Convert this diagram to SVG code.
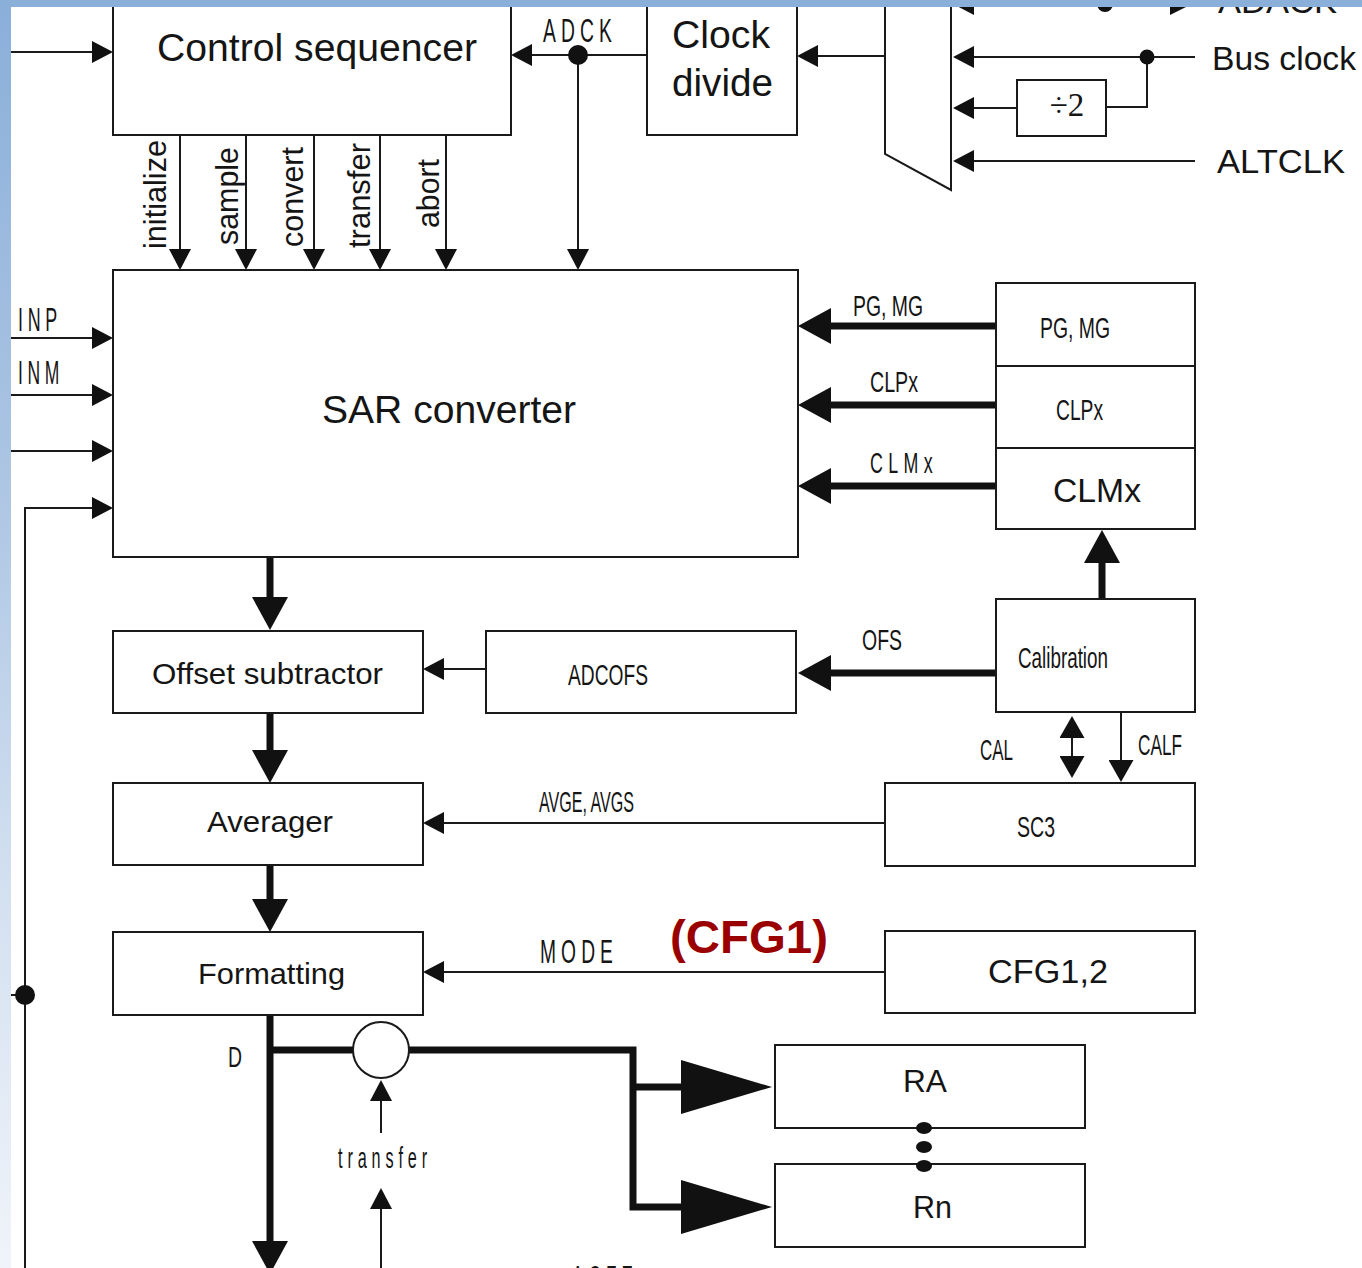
<svg xmlns="http://www.w3.org/2000/svg" width="1362" height="1268" viewBox="0 0 1362 1268">
  <defs>
    <linearGradient id="edge" x1="0" y1="0" x2="0" y2="1">
      <stop offset="0" stop-color="#8aafd9"/>
      <stop offset="0.35" stop-color="#a9c3e2"/>
      <stop offset="0.7" stop-color="#d3e0f0"/>
      <stop offset="1" stop-color="#f0f4fa"/>
    </linearGradient>
    <!-- arrowheads: base sits on the path end, tip points along the path -->
    <marker id="ah" viewBox="0 -11 21 22" refX="0" refY="0" markerWidth="21" markerHeight="22" markerUnits="userSpaceOnUse" orient="auto-start-reverse">
      <path d="M0,-11 L21,0 L0,11 Z" fill="#111"/>
    </marker>
    <marker id="ahm" viewBox="0 -12.5 22 25" refX="0" refY="0" markerWidth="22" markerHeight="25" markerUnits="userSpaceOnUse" orient="auto-start-reverse">
      <path d="M0,-12.5 L22,0 L0,12.5 Z" fill="#111"/>
    </marker>
    <marker id="aht" viewBox="0 -18 33 36" refX="0" refY="0" markerWidth="33" markerHeight="36" markerUnits="userSpaceOnUse" orient="auto">
      <path d="M0,-18 L33,0 L0,18 Z" fill="#111"/>
    </marker>
    <marker id="ahb" viewBox="0 -27 91 54" refX="0" refY="0" markerWidth="91" markerHeight="54" markerUnits="userSpaceOnUse" orient="auto">
      <path d="M0,-27 L91,0 L0,27 Z" fill="#111"/>
    </marker>
  </defs>
  <style>
    .box { fill: #fff; stroke: #1a1a1a; stroke-width: 2; }
    .w { fill: none; stroke: #1a1a1a; stroke-width: 2; }
    .wa { fill: none; stroke: #1a1a1a; stroke-width: 2; marker-end: url(#ah); }
    .wm { fill: none; stroke: #1a1a1a; stroke-width: 2; marker-end: url(#ahm); }
    .bus { fill: none; stroke: #111; stroke-width: 7; stroke-linejoin: miter; }
    .busa { fill: none; stroke: #111; stroke-width: 7; marker-end: url(#aht); }
    .busb { fill: none; stroke: #111; stroke-width: 7; stroke-linejoin: miter; marker-end: url(#ahb); }
    .dot { fill: #111; }
    text { font-family: "Liberation Sans", Arial, Helvetica, sans-serif; fill: #151515; }
    .big { font-size: 38px; }
    .mid { font-size: 33px; }
    .blk { font-size: 30px; }
    .sig { font-size: 31px; }
    .nar { font-size: 30px; }
    .sp { font-size: 30px; letter-spacing: 9px; }
    .spl { font-size: 34px; letter-spacing: 9px; }
    .serif { font-family: "Liberation Serif", "Times New Roman", serif; font-size: 33px; }
    .note { font-size: 47px; font-weight: bold; fill: #9b0000; }
  </style>

  <rect x="0" y="0" width="1362" height="1268" fill="#fff"/>

  <!-- connectors -->
  <g id="connectors">
    <!-- control sequencer inputs -->
    <path class="wa" d="M10,52 H92"/>
    <path class="wa" d="M647,55 H532"/>
    <path class="wa" d="M578,55 V249"/>
    <!-- sequencer control lines -->
    <path class="wa" d="M180,135 V249"/>
    <path class="wa" d="M246,135 V249"/>
    <path class="wa" d="M314,135 V249"/>
    <path class="wa" d="M380,135 V249"/>
    <path class="wa" d="M446,135 V249"/>
    <!-- clock mux -->
    <path class="wa" d="M885,56 H818"/>
    <path class="wa" d="M1170,4 H974"/>
    <polygon points="1170,-7 1192,4 1170,15" fill="#111"/>
    <path class="wa" d="M1195,57 H974"/>
    <path class="w" d="M1147,57 V107 H1106"/>
    <path class="wa" d="M1017,108 H974"/>
    <path class="wa" d="M1195,161 H974"/>
    <!-- analog inputs -->
    <path class="wa" d="M10,338 H92"/>
    <path class="wa" d="M10,395 H92"/>
    <path class="wa" d="M10,451 H92"/>
    <path class="wa" d="M25,1268 V508 H92"/>
    <path class="w" d="M10,995 H25"/>
    <!-- calibration registers -->
    <path class="busa" d="M996,326 H831"/>
    <path class="busa" d="M996,405 H831"/>
    <path class="busa" d="M996,486 H831"/>
    <path class="busa" d="M996,673 H831"/>
    <path class="busa" d="M1102,599 V563"/>
    <path class="wa" d="M486,669 H444"/>
    <path class="wm" d="M1072,738 V756" marker-start="url(#ahm)"/>
    <path class="wm" d="M1121,712 V760"/>
    <path class="wa" d="M885,823 H444"/>
    <path class="wa" d="M885,972 H444"/>
    <!-- data path -->
    <path class="busa" d="M270,557 V597"/>
    <path class="busa" d="M270,713 V750"/>
    <path class="busa" d="M270,865 V899"/>
    <path class="busa" d="M270,1015 V1241"/>
    <path class="bus" d="M270,1050 H353"/>
    <path class="busb" d="M409,1050 H633 V1207 H681"/>
    <path class="busb" d="M633,1087 H681"/>
    <path class="wa" d="M381,1133 V1101"/>
    <path class="wa" d="M381,1268 V1209"/>
    <!-- junction dots -->
    <circle class="dot" cx="578" cy="55" r="10"/>
    <circle class="dot" cx="1147" cy="57" r="7.5"/>
    <circle class="dot" cx="1105" cy="4" r="8"/>
    <circle class="dot" cx="25" cy="995" r="10"/>
  </g>

  <!-- signal labels -->
  <g id="labels">
    <text class="spl" x="543" y="42" textLength="74" lengthAdjust="spacingAndGlyphs">ADCK</text>
    <text class="sig" transform="translate(166,249) rotate(-90)" textLength="109" lengthAdjust="spacingAndGlyphs">initialize</text>
    <text class="sig" transform="translate(238,245) rotate(-90)" textLength="98" lengthAdjust="spacingAndGlyphs">sample</text>
    <text class="sig" transform="translate(303,247) rotate(-90)" textLength="100" lengthAdjust="spacingAndGlyphs">convert</text>
    <text class="sig" transform="translate(370,248) rotate(-90)" textLength="105" lengthAdjust="spacingAndGlyphs">transfer</text>
    <text class="sig" transform="translate(439,228) rotate(-90)" textLength="69" lengthAdjust="spacingAndGlyphs">abort</text>
    <text class="spl" x="18" y="331" textLength="44" lengthAdjust="spacingAndGlyphs">INP</text>
    <text class="spl" x="18" y="384" textLength="46" lengthAdjust="spacingAndGlyphs">INM</text>
    <text class="nar" x="853" y="316" textLength="70" lengthAdjust="spacingAndGlyphs">PG, MG</text>
    <text class="nar" x="870" y="392" textLength="48" lengthAdjust="spacingAndGlyphs">CLPx</text>
    <text class="sp" x="870" y="473" textLength="68" lengthAdjust="spacingAndGlyphs">CLMx</text>
    <text class="nar" x="862" y="650" textLength="40" lengthAdjust="spacingAndGlyphs">OFS</text>
    <text class="nar" x="980" y="760" textLength="33" lengthAdjust="spacingAndGlyphs">CAL</text>
    <text class="nar" x="1138" y="755" textLength="44" lengthAdjust="spacingAndGlyphs">CALF</text>
    <text class="nar" x="539" y="812" textLength="95" lengthAdjust="spacingAndGlyphs">AVGE, AVGS</text>
    <text class="spl" x="540" y="963" textLength="78" lengthAdjust="spacingAndGlyphs">MODE</text>
    <text class="note" x="670" y="953" textLength="158" lengthAdjust="spacingAndGlyphs">(CFG1)</text>
    <text class="nar" x="228" y="1067" textLength="14" lengthAdjust="spacingAndGlyphs">D</text>
    <text class="sp" x="338" y="1168" textLength="94" lengthAdjust="spacingAndGlyphs">transfer</text>
    <text class="sp" x="572" y="1286" textLength="66" lengthAdjust="spacingAndGlyphs">ACFE</text>
    <text class="mid" x="1212" y="70" textLength="144" lengthAdjust="spacingAndGlyphs">Bus clock</text>
    <text class="mid" x="1217" y="173" textLength="128" lengthAdjust="spacingAndGlyphs">ALTCLK</text>
    <text class="mid" x="1218" y="13" textLength="119" lengthAdjust="spacingAndGlyphs">ADACK</text>
  </g>

  <!-- blocks -->
  <g id="control-sequencer">
    <rect class="box" x="113" y="-2" width="398" height="137"/>
    <text class="big" x="157" y="61" textLength="320" lengthAdjust="spacingAndGlyphs">Control sequencer</text>
  </g>
  <g id="clock-divide">
    <rect class="box" x="647" y="-2" width="150" height="137"/>
    <text class="big" x="672" y="48" textLength="98" lengthAdjust="spacingAndGlyphs">Clock</text>
    <text class="big" x="672" y="96" textLength="101" lengthAdjust="spacingAndGlyphs">divide</text>
  </g>
  <g id="clock-mux">
    <path class="box" d="M885,-2 V154 L951,190 V-2"/>
  </g>
  <g id="div2">
    <rect class="box" x="1017" y="80" width="89" height="56"/>
    <text class="serif" x="1067" y="116" text-anchor="middle">÷2</text>
  </g>
  <g id="sar-converter">
    <rect class="box" x="113" y="270" width="685" height="287"/>
    <text class="big" x="322" y="423" textLength="254" lengthAdjust="spacingAndGlyphs">SAR converter</text>
  </g>
  <g id="gain-registers">
    <rect class="box" x="996" y="283" width="199" height="83"/>
    <text class="nar" x="1040" y="338" textLength="70" lengthAdjust="spacingAndGlyphs">PG, MG</text>
  </g>
  <g id="clp-registers">
    <rect class="box" x="996" y="366" width="199" height="82"/>
    <text class="nar" x="1056" y="420" textLength="47" lengthAdjust="spacingAndGlyphs">CLPx</text>
  </g>
  <g id="clm-registers">
    <rect class="box" x="996" y="448" width="199" height="81"/>
    <text class="mid" x="1053" y="502" textLength="88" lengthAdjust="spacingAndGlyphs">CLMx</text>
  </g>
  <g id="calibration">
    <rect class="box" x="996" y="599" width="199" height="113"/>
    <text class="nar" x="1018" y="668" textLength="90" lengthAdjust="spacingAndGlyphs">Calibration</text>
  </g>
  <g id="adcofs">
    <rect class="box" x="486" y="631" width="310" height="82"/>
    <text class="nar" x="568" y="685" textLength="80" lengthAdjust="spacingAndGlyphs">ADCOFS</text>
  </g>
  <g id="offset-subtractor">
    <rect class="box" x="113" y="631" width="310" height="82"/>
    <text class="blk" x="152" y="684" textLength="231" lengthAdjust="spacingAndGlyphs">Offset subtractor</text>
  </g>
  <g id="sc3">
    <rect class="box" x="885" y="783" width="310" height="83"/>
    <text class="nar" x="1017" y="837" textLength="38" lengthAdjust="spacingAndGlyphs">SC3</text>
  </g>
  <g id="averager">
    <rect class="box" x="113" y="783" width="310" height="82"/>
    <text class="blk" x="207" y="832" textLength="126" lengthAdjust="spacingAndGlyphs">Averager</text>
  </g>
  <g id="formatting">
    <rect class="box" x="113" y="932" width="310" height="83"/>
    <text class="blk" x="198" y="984" textLength="147" lengthAdjust="spacingAndGlyphs">Formatting</text>
  </g>
  <g id="cfg">
    <rect class="box" x="885" y="931" width="310" height="82"/>
    <text class="mid" x="988" y="983" textLength="120" lengthAdjust="spacingAndGlyphs">CFG1,2</text>
  </g>
  <g id="transfer-gate">
    <circle class="box" cx="381" cy="1050" r="28"/>
  </g>
  <g id="result-a">
    <rect class="box" x="775" y="1045" width="310" height="83"/>
    <text class="sig" x="903" y="1092" textLength="44" lengthAdjust="spacingAndGlyphs">RA</text>
  </g>
  <g id="result-n">
    <rect class="box" x="775" y="1164" width="310" height="83"/>
    <text class="sig" x="913" y="1218" textLength="39" lengthAdjust="spacingAndGlyphs">Rn</text>
  </g>
  <!-- ellipsis between result registers -->
  <g id="result-ellipsis">
    <ellipse class="dot" cx="924" cy="1128" rx="8" ry="6"/>
    <ellipse class="dot" cx="924" cy="1147" rx="8" ry="6"/>
    <ellipse class="dot" cx="924" cy="1166" rx="8" ry="6"/>
  </g>

  <!-- page edge bands -->
  <rect x="0" y="0" width="11" height="1268" fill="url(#edge)"/>
  <rect x="0" y="0" width="1362" height="7" fill="#8aafd9"/>
</svg>
